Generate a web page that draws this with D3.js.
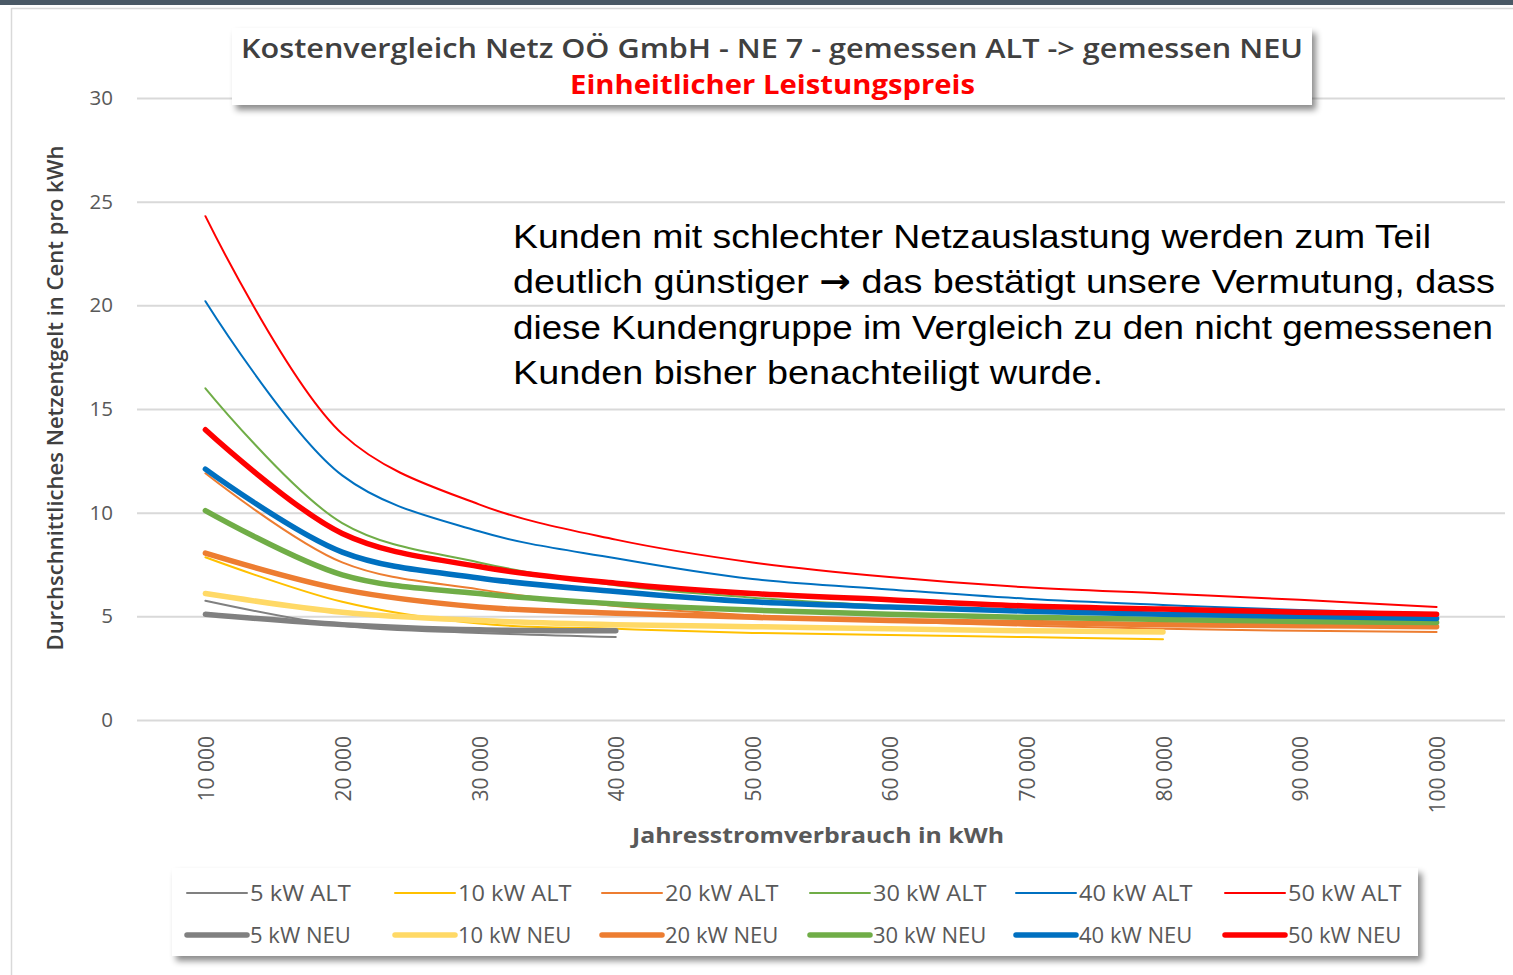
<!DOCTYPE html>
<html>
<head>
<meta charset="utf-8">
<script src="https://cdn.jsdelivr.net/npm/d3@7"></script>
<style>
  html, body { margin: 0; padding: 0; background: #ffffff; }
  svg { display: block; }
</style>
</head>
<body>
<svg id="chart" width="1513" height="975"></svg>
<script>
// ---------- DATA ----------
const categories = [10000, 20000, 30000, 40000, 50000, 60000, 70000, 80000, 90000, 100000];
const xTickLabels = ["10 000", "20 000", "30 000", "40 000", "50 000", "60 000", "70 000", "80 000", "90 000", "100 000"];
const yTicks = [0, 5, 10, 15, 20, 25, 30];

const kw5Alt  = [5.75, 4.55, 4.2, 4.0];
const kw10Alt = [7.85, 5.7, 4.65, 4.4, 4.2, 4.1, 4.0, 3.9];
const kw20Alt = [11.9, 7.6, 6.3, 5.5, 5.05, 4.75, 4.55, 4.4, 4.3, 4.25];
const kw30Alt = [16.0, 9.5, 7.6, 6.5, 5.9, 5.5, 5.25, 5.05, 4.9, 4.8];
const kw40Alt = [20.2, 11.8, 9.1, 7.8, 6.8, 6.3, 5.85, 5.55, 5.3, 5.15];
const kw50Alt = [24.3, 13.8, 10.4, 8.7, 7.6, 6.9, 6.4, 6.1, 5.8, 5.45];

const kw5Neu  = [5.1, 4.6, 4.35, 4.3];
const kw10Neu = [6.1, 5.2, 4.8, 4.6, 4.5, 4.4, 4.3, 4.25];
const kw20Neu = [8.05, 6.3, 5.45, 5.15, 4.95, 4.8, 4.7, 4.6, 4.55, 4.5];
const kw30Neu = [10.1, 7.0, 6.1, 5.6, 5.3, 5.1, 4.95, 4.85, 4.75, 4.7];
const kw40Neu = [12.1, 8.1, 6.85, 6.2, 5.7, 5.45, 5.25, 5.1, 5.0, 4.9];
const kw50Neu = [14.0, 9.0, 7.4, 6.6, 6.1, 5.8, 5.5, 5.35, 5.2, 5.1];

const seriesNames = ["5 kW ALT", "10 kW ALT", "20 kW ALT", "30 kW ALT", "40 kW ALT", "50 kW ALT",
                     "5 kW NEU", "10 kW NEU", "20 kW NEU", "30 kW NEU", "40 kW NEU", "50 kW NEU"];
const seriesValues = [kw5Alt, kw10Alt, kw20Alt, kw30Alt, kw40Alt, kw50Alt,
                      kw5Neu, kw10Neu, kw20Neu, kw30Neu, kw40Neu, kw50Neu];
const seriesColors = ["#808080", "#FFC000", "#ED7D31", "#70AD47", "#0070C0", "#FF0000",
                      "#808080", "#FFD966", "#ED7D31", "#70AD47", "#0070C0", "#FF0000"];

const titleText = "Kostenvergleich Netz OÖ GmbH - NE 7 - gemessen ALT -> gemessen NEU";
const subtitleText = "Einheitlicher Leistungspreis";
const yAxisTitle = "Durchschnittliches Netzentgelt in Cent pro kWh";
const xAxisTitle = "Jahresstromverbrauch  in kWh";
const noteLines = [
  ["Kunden mit schlechter Netzauslastung werden zum Teil"],
  ["deutlich günstiger ", "\u2192", " das bestätigt unsere Vermutung, dass"],
  ["diese Kundengruppe im Vergleich zu den nicht gemessenen"],
  ["Kunden bisher benachteiligt wurde."]
];

// ---------- LAYOUT ----------
const svg = d3.select("#chart");
const plotLeft = 137, plotRight = 1505, plotTop = 98, plotBottom = 720;

const defs = svg.append("defs");
const f = defs.append("filter").attr("id", "shadow").attr("x", "-5%").attr("y", "-20%").attr("width", "115%").attr("height", "160%");
f.append("feDropShadow").attr("dx", 4).attr("dy", 5).attr("stdDeviation", 3).attr("flood-color", "#000").attr("flood-opacity", 0.45);

// page frame
svg.append("rect").attr("x", 0).attr("y", 0).attr("width", 1513).attr("height", 5).attr("fill", "#4a5966");
svg.append("line").attr("x1", 11.5).attr("x2", 11.5).attr("y1", 8).attr("y2", 975).attr("stroke", "#d9d9d9").attr("stroke-width", 1.5);
svg.append("line").attr("x1", 11.5).attr("x2", 1513).attr("y1", 8.5).attr("y2", 8.5).attr("stroke", "#d9d9d9").attr("stroke-width", 1.5);

const x = d3.scalePoint().domain(categories).range([plotLeft, plotRight]).padding(0.5);
const y = d3.scaleLinear().domain([0, 30]).range([plotBottom, plotTop]);

// gridlines
const yAxis = d3.axisLeft(y).tickValues(yTicks).tickSize(-(plotRight - plotLeft)).tickPadding(24);
const gy = svg.append("g").attr("transform", `translate(${plotLeft},0)`).call(yAxis);
gy.select(".domain").remove();
gy.selectAll(".tick line").attr("stroke", "#d9d9d9").attr("stroke-width", 2);
gy.selectAll(".tick text").attr("fill", "#595959").attr("font-family", "Open Sans, sans-serif").attr("font-size", 20.5);

// x axis labels
const xAxis = d3.axisBottom(x).tickSize(0).tickFormat((d, i) => xTickLabels[i]);
const gx = svg.append("g").attr("transform", `translate(0,${plotBottom})`).call(xAxis);
gx.select(".domain").remove();
gx.selectAll(".tick text")
  .attr("fill", "#595959").attr("font-family", "Open Sans, sans-serif").attr("font-size", 21)
  .attr("text-anchor", "end").attr("dy", null).attr("y", 0)
  .attr("transform", "translate(8,16) rotate(-90)");

// lines
const line = d3.line()
  .x((d, i) => x(categories[i]))
  .y(d => y(d))
  .curve(d3.curveCatmullRom.alpha(0.5));

const lineG = svg.append("g");
seriesValues.forEach((vals, i) => {
  const thick = i >= 6;
  lineG.append("path")
    .attr("d", line(vals))
    .attr("fill", "none")
    .attr("stroke", seriesColors[i])
    .attr("stroke-width", thick ? 5.5 : 2)
    .attr("stroke-linecap", "round")
    .attr("stroke-linejoin", "round");
});

// title box
svg.append("rect").attr("x", 232).attr("y", 28).attr("width", 1080).attr("height", 77)
  .attr("fill", "#fff").attr("filter", "url(#shadow)");
svg.append("text").attr("x", 241).attr("y", 58).text(titleText)
  .attr("font-family", "Open Sans, sans-serif").attr("font-weight", 600).attr("font-size", 27)
  .attr("fill", "#404040").attr("textLength", 1062).attr("lengthAdjust", "spacingAndGlyphs");
svg.append("text").attr("x", 570).attr("y", 94).text(subtitleText)
  .attr("font-family", "Open Sans, sans-serif").attr("font-weight", 700).attr("font-size", 27)
  .attr("fill", "#FF0000").attr("textLength", 405).attr("lengthAdjust", "spacingAndGlyphs");

// annotation
const noteWidths = [918, 982, 980, 590];
noteLines.forEach((parts, i) => {
  const t = svg.append("text").attr("x", 513).attr("y", 248 + i * 45.3)
    .attr("font-family", "Liberation Sans, Arial, sans-serif").attr("font-size", 34).attr("fill", "#000")
    .attr("textLength", noteWidths[i]).attr("lengthAdjust", "spacingAndGlyphs");
  parts.forEach(p => {
    const ts = t.append("tspan").text(p);
    if (p === "\u2192") ts.attr("font-family", "DejaVu Sans, sans-serif").attr("font-weight", 700);
  });
});

// y axis title
svg.append("text").attr("transform", "translate(63,398) rotate(-90)")
  .attr("text-anchor", "middle").text(yAxisTitle)
  .attr("font-family", "Open Sans, sans-serif").attr("font-weight", 600).attr("font-size", 21)
  .attr("fill", "#404040").attr("textLength", 505).attr("lengthAdjust", "spacingAndGlyphs");

// x axis title
svg.append("text").attr("x", 818).attr("y", 843).attr("text-anchor", "middle").text(xAxisTitle)
  .attr("font-family", "Open Sans, sans-serif").attr("font-weight", 700).attr("font-size", 21)
  .attr("fill", "#595959").attr("textLength", 372).attr("lengthAdjust", "spacingAndGlyphs");

// legend
svg.append("rect").attr("x", 172).attr("y", 868).attr("width", 1246).attr("height", 88)
  .attr("fill", "#fff").attr("filter", "url(#shadow)");
const colX = [187, 395, 602, 810, 1016, 1225];
const rowY = [893, 935];
seriesNames.forEach((name, i) => {
  const col = i % 6, row = Math.floor(i / 6);
  const thick = row === 1;
  const lx = colX[col], ly = rowY[row];
  svg.append("line").attr("x1", lx).attr("x2", lx + 60).attr("y1", ly).attr("y2", ly)
    .attr("stroke", seriesColors[i]).attr("stroke-width", thick ? 5.5 : 2).attr("stroke-linecap", "round");
  svg.append("text").attr("x", lx + 63).attr("y", ly + 7.5).text(name)
    .attr("font-family", "Open Sans, sans-serif").attr("font-size", 21).attr("fill", "#595959")
    .attr("textLength", name.length * 12.6).attr("lengthAdjust", "spacingAndGlyphs");
});
</script>
</body>
</html>
